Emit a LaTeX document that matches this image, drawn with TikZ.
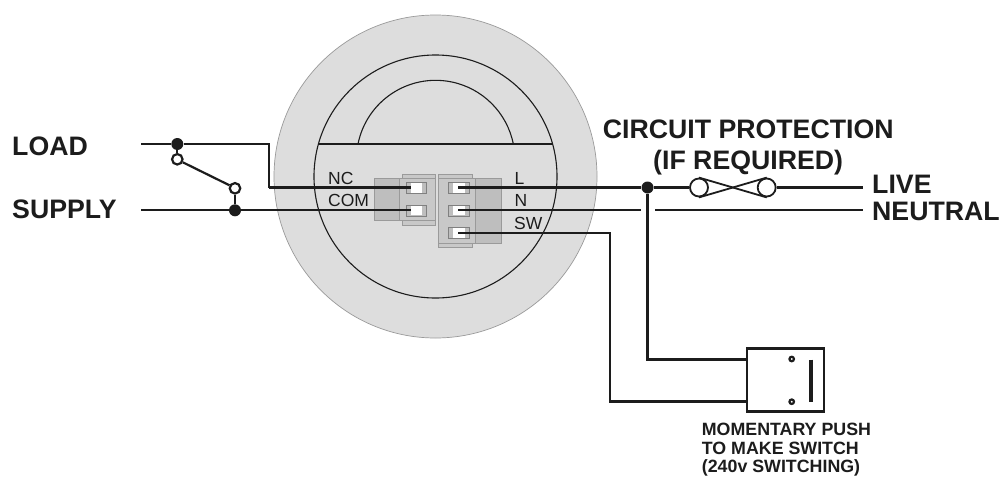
\documentclass[tikz,border=0pt]{standalone}
\usepackage{fontspec}
\setmainfont{Liberation Sans}
\definecolor{ink}{HTML}{1C1C1C}
\definecolor{plate}{HTML}{DDDDDD}
\definecolor{blockdark}{HTML}{BEBEBE}
\definecolor{blocklight}{HTML}{C8C8C8}
\definecolor{edge}{HTML}{9A9A9A}
\tikzset{
  wire/.style={draw=ink,line width=2.2pt,line join=miter},
  heavywire/.style={draw=ink,line width=3pt,line join=miter},
  thinline/.style={draw=ink,line width=1.1pt},
  dot/.style={circle,fill=ink,inner sep=0pt,minimum size=12pt},
  ring/.style={circle,draw=ink,fill=white,line width=2.2pt,inner sep=0pt,minimum size=10.5pt},
  fusering/.style={circle,draw=ink,fill=white,line width=1.8pt,inner sep=0pt,minimum size=18pt},
  pole/.style={circle,draw=ink,fill=white,line width=2.2pt,inner sep=0pt,minimum size=4.5pt},
  big/.style={anchor=base west,inner sep=0pt,text=ink,font=\fontsize{26.7}{26.7}\selectfont\bfseries},
  mid/.style={anchor=base west,inner sep=0pt,text=ink,font=\fontsize{17.8}{17.8}\selectfont\bfseries},
  tag/.style={anchor=base west,inner sep=0pt,text=ink,font=\fontsize{17.5}{17.5}\selectfont},
  blk/.style={fill=blockdark,draw=edge,line width=0.7pt},
  lgt/.style={fill=blocklight,draw=edge,line width=0.7pt},
  pin/.style={fill=blockdark,draw=gray,line width=0.7pt},
}
\begin{document}
\begin{tikzpicture}[x=1pt,y=-1pt]
\useasboundingbox (0,0) rectangle (1000,477);
\fill[white] (0,0) rectangle (1000,477);
% plate
\filldraw[fill=plate,draw=edge,line width=0.7pt] (435.5,176.5) circle[radius=161.5];
\draw[thinline] (435.5,176.5) circle[radius=121.5];
\draw[thinline] (319,144) -- (552,144);
\draw[thinline] (358,144) arc[start angle=-168.7,end angle=-11.3,radius=79.2];
% left terminal block
\filldraw[lgt] (402.7,174) rectangle (435.7,225.7);
\filldraw[blk] (374,178.3) rectangle (400,220.3);
\filldraw[lgt] (399.5,178.3) rectangle (435.7,220.3);
% right terminal block
\filldraw[lgt] (438.7,174) rectangle (472,247.3);
\filldraw[blk] (475.5,178.3) rectangle (501,243.3);
\filldraw[lgt] (438.7,178.3) rectangle (475.7,243.3);
% pins
\filldraw[pin] (406,182) rectangle (426.7,193.7);
\filldraw[pin] (406,205.3) rectangle (426.7,216);
\filldraw[pin] (448.3,182) rectangle (469.3,193.7);
\filldraw[pin] (448.3,205.3) rectangle (469.3,216);
\filldraw[pin] (448.3,227.3) rectangle (469.3,238.3);
\fill[white] (410.7,182.6) rectangle (422.3,193.1);
\fill[white] (410.7,205.9) rectangle (422.3,215.4);
\fill[white] (453,182.6) rectangle (465,193.1);
\fill[white] (453,205.9) rectangle (465,215.4);
\fill[white] (453,227.9) rectangle (465,237.7);
% terminal points
\coordinate (tNC) at (411,187.5);
\coordinate (tCOM) at (411,210.3);
\coordinate (tL) at (458,187.5);
\coordinate (tN) at (458,210.3);
\coordinate (tSW) at (458,233.3);
% free ends
\coordinate (loadEnd) at (141,144);
\coordinate (supplyEnd) at (141,210.3);
\coordinate (loadCornerA) at (269.3,144);
\coordinate (loadCornerB) at (269.3,187.5);
\coordinate (neutralGapA) at (641,210.3);
\coordinate (neutralGapB) at (655,210.3);
\coordinate (neutralEnd) at (863,210.3);
\coordinate (liveEnd) at (863,187.5);
\coordinate (swCornerA) at (610,233.3);
\coordinate (swCornerB) at (610,401.5);
\coordinate (pushCorner) at (647.5,359.5);
% switch box
\node[draw=ink,line width=2.2pt,fill=white,inner sep=0pt,minimum width=77pt,minimum height=63pt] (pushbox) at (785.5,380) {};
\coordinate (boxIn1) at (747,359.5);
\coordinate (boxIn2) at (747,401.5);
\node[pole] (poleA) at (791.7,359) {};
\node[pole] (poleB) at (791.7,401.7) {};
\draw[draw=ink,line width=4pt] (811.3,359.5) -- (811.3,401.5);
% junctions and switch
\node[dot] (jLoad) at (177.3,144) {};
\node[dot] (jSupply) at (235,210.3) {};
\node[dot] (jLive) at (647.5,187.5) {};
\node[ring] (cLoad) at (177.3,159.3) {};
\node[ring] (cSupply) at (235,188.3) {};
% wires
\draw[wire] (loadEnd) -- (jLoad) -- (loadCornerA) -- (loadCornerB);
\draw[heavywire] (loadCornerB) -- (tNC);
\draw[wire] (supplyEnd) -- (jSupply) -- (tCOM);
\draw[wire] (jLoad) -- (cLoad);
\draw[wire] (jSupply) -- (cSupply);
\draw[wire] ([shift={(5.5,3)}]cLoad.center) -- ([shift={(-5.5,-3)}]cSupply.center);
\draw[heavywire] (tL) -- (jLive);
\draw[wire] (tN) -- (neutralGapA);
\draw[wire] (neutralGapB) -- (neutralEnd);
\draw[wire] (tSW) -- (swCornerA) -- (swCornerB) -- (boxIn2);
\draw[wire] (jLive) -- (pushCorner) -- (boxIn1);
% fuse
\node[fusering] (fuseL) at (699,187.5) {};
\node[fusering] (fuseR) at (766.7,187.5) {};
\draw[wire] (jLive) -- (fuseL);
\draw[wire] (fuseR) -- (liveEnd);
\draw[draw=ink,line width=1.8pt] (fuseL.north) -- (fuseR.south);
\draw[draw=ink,line width=1.8pt] (fuseL.south) -- (fuseR.north);
% labels
\node[big] (lLoad) at (12,155) {LOAD};
\node[big] (lSupply) at (12,218.5) {SUPPLY};
\node[big] (lCP) at (602.7,138.3) {CIRCUIT PROTECTION};
\node[big] (lIF) at (653,169) {(IF REQUIRED)};
\node[big] (lLive) at (872,193) {LIVE};
\node[big] (lNeutral) at (872,220) {NEUTRAL};
\node[tag] (lNC) at (328,184) {NC};
\node[tag] (lCOM) at (328,206) {COM};
\node[tag] (lL) at (514.5,184) {L};
\node[tag] (lN) at (514.5,206) {N};
\node[tag] (lSW) at (514,229.3) {SW};
\node[mid] (m1) at (701.7,435.7) {MOMENTARY PUSH};
\node[mid] (m2) at (701.7,454.7) {TO MAKE SWITCH};
\node[mid] (m3) at (701.7,472.7) {(240v SWITCHING)};
\end{tikzpicture}
\end{document}
